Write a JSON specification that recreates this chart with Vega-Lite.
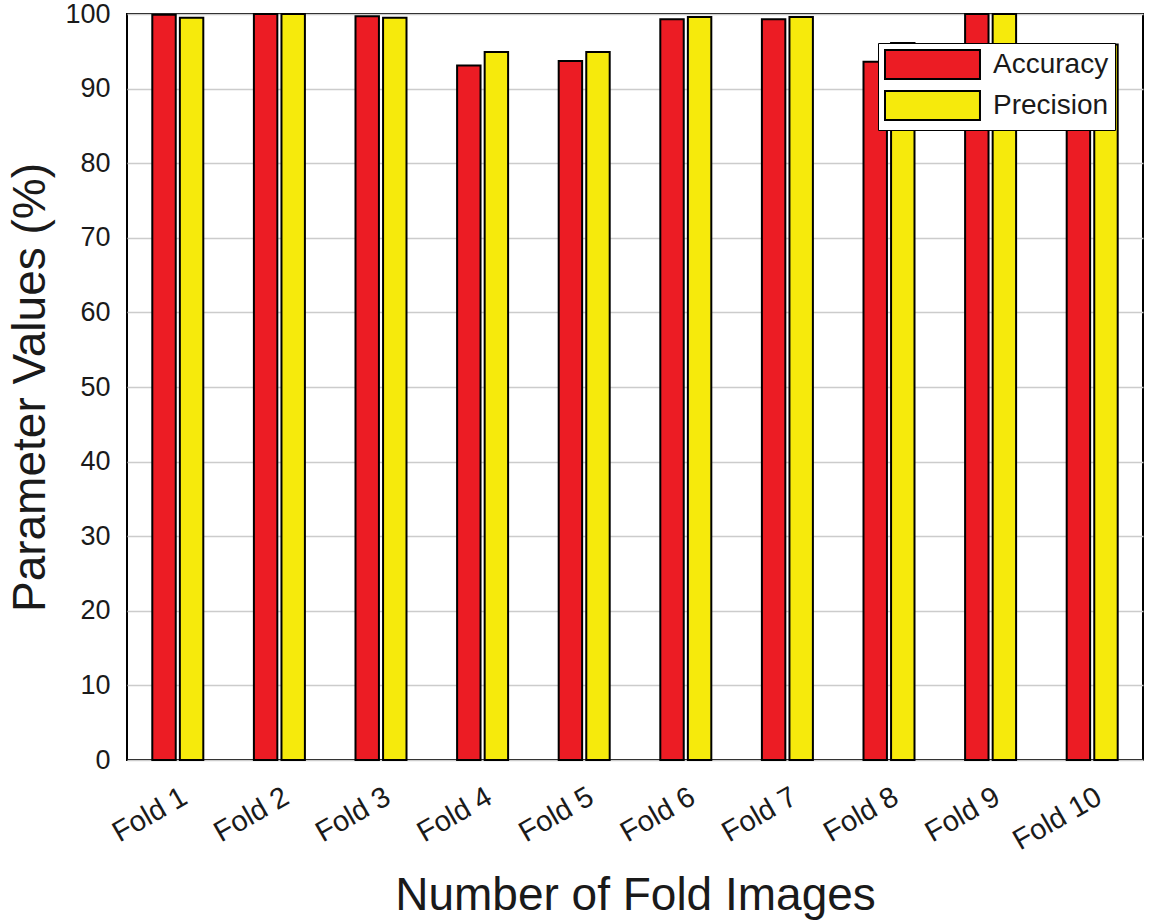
{
  "$schema": "https://vega.github.io/schema/vega-lite/v6.json",
  "width": 1016,
  "height": 746,
  "autosize": {"type": "none"},
  "padding": {"left": 127, "top": 14, "right": 7, "bottom": 164},
  "background": "white",
  "config": {
    "font": "Liberation Sans",
    "view": {"stroke": "black", "strokeWidth": 2},
    "axis": {"gridColor": "#cccccc", "gridWidth": 1.5, "labelColor": "#1a1a1a", "titleColor": "#1a1a1a", "titleFontWeight": "normal", "domain": false, "ticks": false}
  },
  "data": {"values": [
    {"fold": "Fold 1", "metric": "Accuracy", "value": 99.9},
    {"fold": "Fold 1", "metric": "Precision", "value": 99.5},
    {"fold": "Fold 2", "metric": "Accuracy", "value": 100},
    {"fold": "Fold 2", "metric": "Precision", "value": 100},
    {"fold": "Fold 3", "metric": "Accuracy", "value": 99.7},
    {"fold": "Fold 3", "metric": "Precision", "value": 99.5},
    {"fold": "Fold 4", "metric": "Accuracy", "value": 93.1},
    {"fold": "Fold 4", "metric": "Precision", "value": 94.9},
    {"fold": "Fold 5", "metric": "Accuracy", "value": 93.7},
    {"fold": "Fold 5", "metric": "Precision", "value": 94.9},
    {"fold": "Fold 6", "metric": "Accuracy", "value": 99.3},
    {"fold": "Fold 6", "metric": "Precision", "value": 99.6},
    {"fold": "Fold 7", "metric": "Accuracy", "value": 99.3},
    {"fold": "Fold 7", "metric": "Precision", "value": 99.6},
    {"fold": "Fold 8", "metric": "Accuracy", "value": 93.6},
    {"fold": "Fold 8", "metric": "Precision", "value": 96.1},
    {"fold": "Fold 9", "metric": "Accuracy", "value": 100},
    {"fold": "Fold 9", "metric": "Precision", "value": 100},
    {"fold": "Fold 10", "metric": "Accuracy", "value": 95.0},
    {"fold": "Fold 10", "metric": "Precision", "value": 95.9}
  ]},
  "mark": {"type": "bar", "stroke": "black", "strokeWidth": 2},
  "encoding": {
    "x": {
      "field": "fold", "type": "nominal", "sort": null,
      "scale": {"paddingInner": 0.498, "paddingOuter": 0.249},
      "axis": {"title": "Number of Fold Images", "titleFontSize": 46, "titlePadding": 18, "labelFontSize": 29, "labelAngle": -30, "labelPadding": 22, "grid": false}
    },
    "xOffset": {"field": "metric", "type": "nominal", "sort": ["Accuracy", "Precision"], "scale": {"paddingInner": 0.15, "paddingOuter": 0}},
    "y": {
      "field": "value", "type": "quantitative",
      "scale": {"domain": [0, 100], "nice": false},
      "axis": {"title": "Parameter Values (%)", "titleFontSize": 46, "titlePadding": 10, "labelFontSize": 27, "labelPadding": 17, "values": [0, 10, 20, 30, 40, 50, 60, 70, 80, 90, 100], "grid": true}
    },
    "color": {
      "field": "metric", "type": "nominal",
      "scale": {"domain": ["Accuracy", "Precision"], "range": ["#ec1c24", "#f6ea0c"]},
      "legend": {
        "title": null, "orient": "none", "legendX": 751, "legendY": 29,
        "fillColor": "white", "strokeColor": "black", "padding": 6,
        "symbolType": "M-1,-1L5.55,-1L5.55,1L-1,1Z", "symbolSize": 841,
        "symbolStrokeColor": "black", "symbolStrokeWidth": 2, "symbolOpacity": 1,
        "labelFontSize": 28, "labelOffset": 78, "labelColor": "#1a1a1a", "rowPadding": 4
      }
    }
  }
}
